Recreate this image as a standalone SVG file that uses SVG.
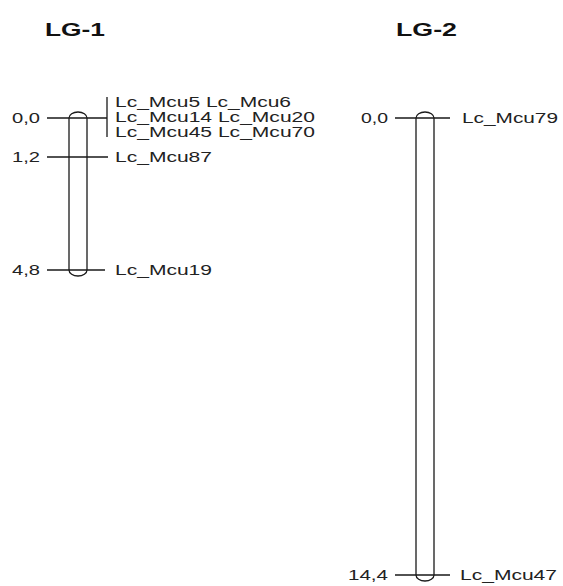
<svg xmlns="http://www.w3.org/2000/svg" width="563" height="586" viewBox="0 0 563 586">
<style>
.t{font-family:"Liberation Sans",Arial,sans-serif;font-weight:bold;font-size:18px;fill:#111}
.l{font-family:"Liberation Sans",Arial,sans-serif;font-size:14px;fill:#222}
.ln{stroke:#1a1a1a;stroke-width:1.3;fill:none}
.chr{stroke:#1a1a1a;stroke-width:1.3;fill:#fff}
</style>
<rect width="563" height="586" fill="#fff"/>
<g id="LG-1">
<text class="t" x="45" y="36" textLength="60" lengthAdjust="spacingAndGlyphs">LG-1</text>
<path class="chr" d="M69,270 L69,118 A9,6 0 0 1 87,118 L87,270 A9,6 0 0 1 69,270 Z"/>
<text class="l" x="12" y="123" textLength="28" lengthAdjust="spacingAndGlyphs">0,0</text>
<text class="l" x="12" y="162" textLength="28" lengthAdjust="spacingAndGlyphs">1,2</text>
<text class="l" x="12" y="275" textLength="28" lengthAdjust="spacingAndGlyphs">4,8</text>
<text class="l" x="115" y="107" textLength="176" lengthAdjust="spacingAndGlyphs">Lc_Mcu5 Lc_Mcu6</text>
<text class="l" x="115" y="122" textLength="200" lengthAdjust="spacingAndGlyphs">Lc_Mcu14 Lc_Mcu20</text>
<text class="l" x="115" y="137" textLength="200" lengthAdjust="spacingAndGlyphs">Lc_Mcu45 Lc_Mcu70</text>
<text class="l" x="115" y="162" textLength="97" lengthAdjust="spacingAndGlyphs">Lc_Mcu87</text>
<text class="l" x="115" y="275" textLength="97" lengthAdjust="spacingAndGlyphs">Lc_Mcu19</text>
</g>
<g id="LG-2">
<text class="t" x="396" y="36" textLength="61" lengthAdjust="spacingAndGlyphs">LG-2</text>
<path class="chr" d="M416,575 L416,118 A9,6 0 0 1 434,118 L434,575 A9,6 0 0 1 416,575 Z"/>
<text class="l" x="361" y="123" textLength="27" lengthAdjust="spacingAndGlyphs">0,0</text>
<text class="l" x="348" y="580" textLength="40" lengthAdjust="spacingAndGlyphs">14,4</text>
<text class="l" x="462" y="123" textLength="96" lengthAdjust="spacingAndGlyphs">Lc_Mcu79</text>
<text class="l" x="460" y="580" textLength="97" lengthAdjust="spacingAndGlyphs">Lc_Mcu47</text>
</g>
<g id="connectors">
<path class="ln" d="M47,118 H107 M107,97 V137 M47,157 H108 M47,270 H105"/>
<path class="ln" d="M395,118 H450 M395,575 H450"/>
</g>
</svg>
